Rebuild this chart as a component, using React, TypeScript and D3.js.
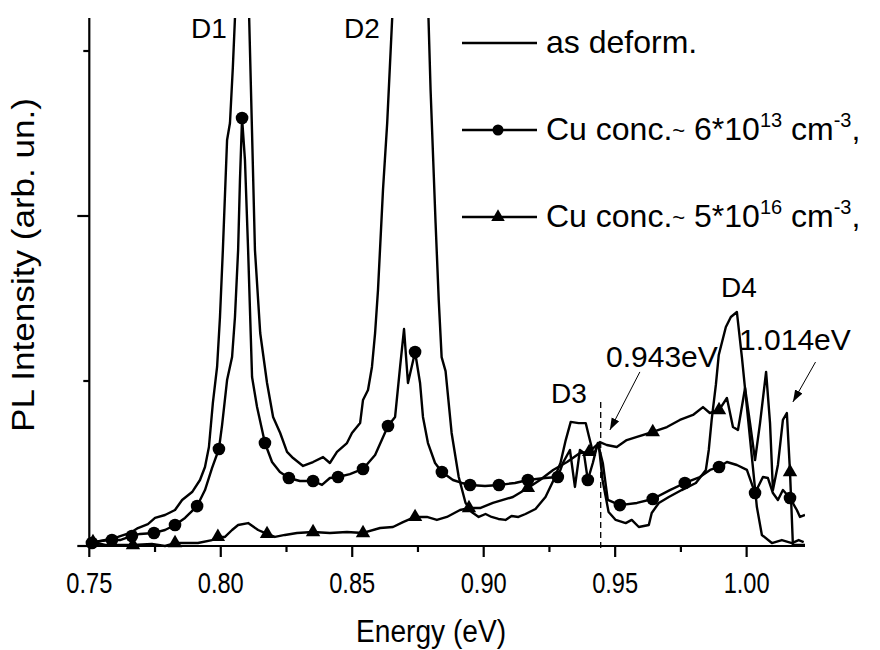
import React from 'react';
import * as d3 from 'd3';

// Energy (eV), PL intensity (arb. un.)
const asDeform: [number, number][] = [
  [0.7499,0.018],[0.7541,0.030],[0.7609,0.055],[0.7655,0.079],[0.7685,0.109],[0.7723,0.133],[0.7750,0.170],[0.7788,0.188],
  [0.7826,0.218],[0.7853,0.279],[0.7891,0.327],[0.7921,0.400],[0.7940,0.479],[0.7955,0.600],[0.7970,0.867],[0.7986,1.085],
  [0.7997,1.388],[0.8008,1.794],[0.8024,2.461],[0.8035,2.564],[0.8046,2.903],[0.8054,3.20],[0.8080,4.6],[0.8108,3.20],
  [0.8119,2.503],[0.8130,1.794],[0.8150,1.291],[0.8176,0.988],[0.8199,0.782],[0.8226,0.685],[0.8252,0.570],[0.8275,0.533],
  [0.8313,0.485],[0.8351,0.509],[0.8389,0.539],[0.8415,0.503],[0.8442,0.570],[0.8480,0.624],[0.8499,0.685],[0.8530,0.745],
  [0.8541,0.885],[0.8560,0.945],[0.8575,1.085],[0.8587,1.291],[0.8598,1.552],[0.8617,2.158],[0.8633,2.564],[0.8652,3.20],
  [0.8724,5.2],[0.8790,3.20],[0.8798,2.764],[0.8817,1.958],[0.8829,1.491],[0.8840,1.145],[0.8855,1.060],[0.8878,0.685],
  [0.8905,0.418],[0.8931,0.261],[0.8954,0.206],[0.8981,0.176],[0.9007,0.194],[0.9030,0.176],[0.9056,0.164],[0.9083,0.158],
  [0.9106,0.182],[0.9132,0.176],[0.9159,0.194],[0.9197,0.224],[0.9235,0.297],[0.9266,0.400],[0.9292,0.503],[0.9312,0.642],
  [0.9331,0.752],[0.9361,0.745],[0.9388,0.745],[0.9399,0.673],[0.9418,0.552],[0.9437,0.624],[0.9452,0.400],[0.9475,0.206],
  [0.9502,0.158],[0.9540,0.139],[0.9563,0.158],[0.9590,0.115],[0.9628,0.127],[0.9639,0.200],[0.9666,0.261],[0.9704,0.297],
  [0.9753,0.339],[0.9807,0.382],[0.9845,0.461],[0.9856,0.582],[0.9867,0.764],[0.9883,0.976],[0.9894,1.158],[0.9921,1.327],
  [0.9940,1.388],[0.9963,1.418],[0.9982,1.145],[1.0001,0.842],[1.0020,0.539],[1.0039,0.236],[1.0058,0.067],[1.0096,0.018],
  [1.0134,0.036],[1.0172,0.018],[1.0198,0.036],[1.0217,0.024],
];

const cuLow: [number, number][] = [
  [0.7499,0.012],[0.7510,0.018],[0.7541,0.030],[0.7586,0.036],[0.7617,0.036],[0.7662,0.061],[0.7693,0.073],[0.7746,0.079],
  [0.7788,0.097],[0.7826,0.127],[0.7864,0.170],[0.7910,0.242],[0.7940,0.339],[0.7967,0.473],[0.7993,0.588],[0.8005,0.733],
  [0.8024,1.006],[0.8043,1.145],[0.8054,1.388],[0.8066,1.794],[0.8073,2.218],[0.8081,2.594],[0.8092,2.339],[0.8104,1.794],
  [0.8119,1.024],[0.8138,0.842],[0.8168,0.624],[0.8195,0.509],[0.8225,0.448],[0.8259,0.412],[0.8301,0.394],[0.8351,0.394],
  [0.8385,0.370],[0.8415,0.412],[0.8446,0.418],[0.8491,0.436],[0.8541,0.467],[0.8587,0.552],[0.8636,0.727],[0.8663,0.782],
  [0.8682,1.085],[0.8697,1.315],[0.8712,0.988],[0.8739,1.176],[0.8758,0.988],[0.8769,0.782],[0.8788,0.624],[0.8815,0.503],
  [0.8841,0.448],[0.8883,0.400],[0.8917,0.382],[0.8948,0.370],[0.9005,0.364],[0.9058,0.370],[0.9119,0.382],[0.9168,0.400],
  [0.9233,0.412],[0.9282,0.418],[0.9301,0.503],[0.9328,0.582],[0.9347,0.358],[0.9366,0.582],[0.9381,0.564],[0.9396,0.400],
  [0.9415,0.503],[0.9434,0.624],[0.9453,0.503],[0.9472,0.279],[0.9518,0.248],[0.9583,0.261],[0.9643,0.285],[0.9708,0.339],
  [0.9765,0.382],[0.9822,0.418],[0.9861,0.461],[0.9895,0.479],[0.9925,0.509],[0.9963,0.491],[1.0001,0.461],[1.0032,0.321],
  [1.0062,0.418],[1.0081,0.412],[1.0100,0.321],[1.0119,0.279],[1.0138,0.339],[1.0165,0.291],[1.0191,0.218],[1.0203,0.176],
  [1.0222,0.188],
];

const cuLowMarkers: [number, number][] = [
  [0.7510,0.018],[0.7586,0.036],[0.7662,0.061],[0.7746,0.079],[0.7826,0.127],[0.7910,0.242],[0.7993,0.588],[0.8081,2.594],
  [0.8168,0.624],[0.8259,0.412],[0.8351,0.394],[0.8446,0.418],[0.8541,0.467],[0.8636,0.727],[0.8739,1.176],[0.8841,0.448],
  [0.8948,0.370],[0.9058,0.370],[0.9168,0.400],[0.9282,0.418],[0.9396,0.400],[0.9518,0.248],[0.9643,0.285],[0.9765,0.382],
  [0.9895,0.479],[1.0032,0.321],[1.0165,0.291],
];

const cuHigh: [number, number][] = [
  [0.7499,0.012],[0.7514,0.024],[0.7560,0.006],[0.7609,0.006],[0.7666,0.006],[0.7738,0.012],[0.7788,0.000],[0.7826,0.018],
  [0.7864,0.018],[0.7913,0.018],[0.7967,0.036],[0.7989,0.055],[0.8016,0.055],[0.8043,0.097],[0.8066,0.127],[0.8104,0.139],
  [0.8142,0.097],[0.8176,0.073],[0.8206,0.055],[0.8244,0.067],[0.8290,0.079],[0.8351,0.085],[0.8415,0.079],[0.8480,0.085],
  [0.8541,0.079],[0.8606,0.109],[0.8655,0.115],[0.8693,0.145],[0.8739,0.176],[0.8784,0.176],[0.8822,0.158],[0.8860,0.176],
  [0.8910,0.218],[0.8944,0.230],[0.8986,0.230],[0.9035,0.261],[0.9111,0.297],[0.9168,0.352],[0.9214,0.400],[0.9264,0.461],
  [0.9317,0.509],[0.9366,0.564],[0.9401,0.570],[0.9442,0.630],[0.9468,0.612],[0.9506,0.600],[0.9544,0.642],[0.9583,0.661],
  [0.9643,0.691],[0.9697,0.721],[0.9746,0.764],[0.9796,0.794],[0.9834,0.842],[0.9860,0.806],[0.9895,0.824],[0.9925,0.897],
  [0.9948,0.721],[0.9967,0.703],[0.9994,0.958],[1.0013,0.745],[1.0032,0.521],[1.0051,0.745],[1.0074,1.055],[1.0089,0.745],
  [1.0100,0.339],[1.0119,0.491],[1.0138,0.764],[1.0153,0.806],[1.0165,0.448],[1.0176,0.006],[1.0222,0.006],
];

const cuHighMarkers: [number, number][] = [
  [0.7514,0.024],[0.7666,0.006],[0.7826,0.018],[0.7989,0.055],[0.8176,0.073],[0.8351,0.085],[0.8541,0.079],[0.8739,0.176],
  [0.8944,0.230],[0.9168,0.352],[0.9401,0.570],[0.9643,0.691],[0.9895,0.824],[1.0165,0.448],
];

const xMajorTicks = [0.75, 0.8, 0.85, 0.9, 0.95, 1.0];
const xTickLabels = ['0.75', '0.80', '0.85', '0.90', '0.95', '1.00'];
const xMinorTicks = [0.775, 0.825, 0.875, 0.925, 0.975];
const yMajorTicks = [0, 2];
const yMinorTicks = [1, 3];
const lineEnergy = 0.9445;

const FONT = 'Liberation Sans, Arial, sans-serif';

export default function App() {
  const x = d3.scaleLinear().domain([0.75, 1.0222]).range([89.3, 805]);
  const y = d3.scaleLinear().domain([0, 3.2]).range([546, 18]);
  const line = d3.line<[number, number]>().x(d => x(d[0])).y(d => y(d[1]));
  const circ = d3.symbol(d3.symbolCircle, 125)() as string;
  const tri = d3.symbol(d3.symbolTriangle, 90)() as string;
  const x0 = x(0.75), y0 = y(0);

  return (
    <svg width={880} height={650} style={{ position: 'absolute', left: 0, top: 0, background: '#fff' }}
      fontFamily={FONT}>
      <defs>
        <clipPath id="plot">
          <rect x={x0} y={y(3.2)} width={x(1.0222) - x0} height={y0 - y(3.2) + 4} />
        </clipPath>
        <marker id="arr" viewBox="0 0 10 10" refX="10" refY="5" markerWidth="12" markerHeight="12" orient="auto" markerUnits="userSpaceOnUse">
          <path d="M0,1.5 L10,5 L0,8.5 Z" fill="#000" />
        </marker>
      </defs>
      <rect width={880} height={650} fill="#fff" />

      <g clipPath="url(#plot)" fill="none" stroke="#000" strokeWidth={2.4} strokeLinejoin="round">
        <path d={line(asDeform) as string} />
        <path d={line(cuLow) as string} />
        <path d={line(cuHigh) as string} />
      </g>
      <g fill="#000">
        {cuLowMarkers.map((d, i) => <path key={'c' + i} d={circ} transform={`translate(${x(d[0])},${y(d[1])})`} />)}
        {cuHighMarkers.map((d, i) => <path key={'t' + i} d={tri} transform={`translate(${x(d[0])},${y(d[1])})`} />)}
      </g>

      {/* dashed marker line at 0.943 eV */}
      <line x1={x(lineEnergy)} x2={x(lineEnergy)} y1={y(0.873)} y2={y0 + 4} stroke="#000" strokeWidth={1.3} strokeDasharray="6,4" />

      {/* axes */}
      <g stroke="#000" strokeWidth={2.2}>
        <line x1={x0} x2={x0} y1={y(3.2)} y2={y0 + 1} />
        <line x1={x0 - 1} x2={x(1.0222)} y1={y0} y2={y0} />
        {xMajorTicks.map(t => <line key={'xM' + t} x1={x(t)} x2={x(t)} y1={y0} y2={y0 + 11} />)}
        {xMinorTicks.map(t => <line key={'xm' + t} x1={x(t)} x2={x(t)} y1={y0} y2={y0 + 6} />)}
        {yMajorTicks.map(t => <line key={'yM' + t} x1={x0 - 12} x2={x0} y1={y(t)} y2={y(t)} />)}
        {yMinorTicks.map(t => <line key={'ym' + t} x1={x0 - 6} x2={x0} y1={y(t)} y2={y(t)} />)}
      </g>
      <g fontSize={30} textAnchor="middle" fill="#000">
        {xMajorTicks.map((t, i) => (
          <text key={'xl' + t} x={x(t)} y={593} textLength={46} lengthAdjust="spacingAndGlyphs">{xTickLabels[i]}</text>
        ))}
      </g>
      <text x={431} y={642} fontSize={31} textAnchor="middle" textLength={150} lengthAdjust="spacingAndGlyphs">Energy (eV)</text>
      <text transform="translate(34,265) rotate(-90)" fontSize={31} textAnchor="middle" textLength={334} lengthAdjust="spacingAndGlyphs">PL Intensity (arb. un.)</text>

      {/* peak labels */}
      <g fontSize={28} fill="#000">
        <text x={191} y={38}>D1</text>
        <text x={344} y={38}>D2</text>
        <text x={551} y={403}>D3</text>
        <text x={721} y={297}>D4</text>
      </g>
      <g fontSize={30} fill="#000">
        <text x={606} y={367}>0.943eV</text>
        <text x={739} y={350}>1.014eV</text>
      </g>
      <g stroke="#000" strokeWidth={1}>
        <line x1={x(0.9594)} y1={y(1.055)} x2={x(0.9480)} y2={y(0.703)} markerEnd="url(#arr)" />
        <line x1={x(1.0262)} y1={y(1.115)} x2={x(1.0176)} y2={y(0.873)} markerEnd="url(#arr)" />
      </g>

      {/* legend */}
      <g stroke="#000" strokeWidth={2.4}>
        <line x1={462} x2={537} y1={43} y2={43} />
        <line x1={462} x2={537} y1={130} y2={130} />
        <line x1={462} x2={537} y1={217} y2={217} />
      </g>
      <path d={d3.symbol(d3.symbolCircle, 95)() as string} transform="translate(498,130)" fill="#000" />
      <path d={d3.symbol(d3.symbolTriangle, 80)() as string} transform="translate(498,217)" fill="#000" />
      <g fontSize={32} fill="#000">
        <text x={546} y={53}>as deform.</text>
        <text x={546} y={140}>Cu conc.<tspan fontSize={22} dy={-2}>~</tspan><tspan dy={2}> 6*10</tspan><tspan fontSize={20} dy={-13}>13</tspan><tspan dy={13}> cm</tspan><tspan fontSize={20} dy={-13}>-3</tspan><tspan dy={13}>,</tspan></text>
        <text x={546} y={227}>Cu conc.<tspan fontSize={22} dy={-2}>~</tspan><tspan dy={2}> 5*10</tspan><tspan fontSize={20} dy={-13}>16</tspan><tspan dy={13}> cm</tspan><tspan fontSize={20} dy={-13}>-3</tspan><tspan dy={13}>,</tspan></text>
      </g>
    </svg>
  );
}
